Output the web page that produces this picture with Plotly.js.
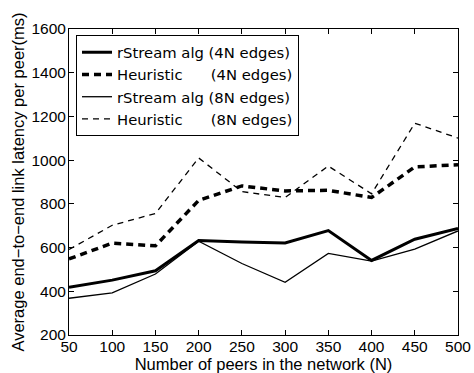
<!DOCTYPE html>
<html><head><meta charset="utf-8">
<script src="https://cdn.plot.ly/plotly-3.0.1.min.js"></script>
<style>html,body{margin:0;padding:0;background:#fff}</style>
</head><body><div id="chart" style="width:474px;height:373px"></div>
<script>
const peers = [50, 100, 150, 200, 250, 300, 350, 400, 450, 500];
const rstream4N = [418, 451, 494, 632, 626, 621, 678, 541, 638, 687];
const heuristic4N = [548, 620, 608, 816, 882, 859, 862, 829, 969, 979];
const rstream8N = [368, 393, 479, 629, 527, 441, 573, 538, 593, 676];
const heuristic8N = [591, 702, 756, 1010, 856, 829, 973, 846, 1169, 1101];
const names = ['rStream alg (4N edges)', 'Heuristic\u00a0\u00a0\u00a0\u00a0\u00a0\u00a0(4N edges)',
               'rStream alg (8N edges)', 'Heuristic\u00a0\u00a0\u00a0\u00a0\u00a0\u00a0(8N edges)'];
const yTicks = [200, 400, 600, 800, 1000, 1200, 1400, 1600];

const fam = 'Liberation Sans, Arial, sans-serif';
const tickFont = {family: fam, size: 15.5, color: '#000'};
const titleFont = {family: fam, size: 16.5, color: '#000'};
const legFont = {family: 'DejaVu Sans, Liberation Sans, sans-serif', size: 14.8, color: '#000'};
const traces = [
  {x: peers, y: rstream4N, name: names[0], mode: 'lines', line: {color: '#000', width: 3}},
  {x: peers, y: heuristic4N, name: names[1], mode: 'lines', line: {color: '#000', width: 3.5, dash: '7px,5px'}},
  {x: peers, y: rstream8N, name: names[2], mode: 'lines', line: {color: '#000', width: 1.3}},
  {x: peers, y: heuristic8N, name: names[3], mode: 'lines', line: {color: '#000', width: 1.3, dash: '6px,5px'}}
];
const axisCommon = {showline: true, linecolor: '#000', linewidth: 1, mirror: 'allticks', ticks: 'inside',
  ticklen: 5, tickcolor: '#000', showgrid: false, zeroline: false, tickfont: tickFont};
const layout = {
  width: 474, height: 373, margin: {l: 69, r: 16, t: 29, b: 38},
  paper_bgcolor: '#fff', plot_bgcolor: '#fff', font: tickFont, showlegend: true,
  xaxis: Object.assign({}, axisCommon, {range: [50, 500], tickvals: peers, ticktext: peers.map(String),
    ticklabelstandoff: -3, title: {text: 'Number of peers in the network (N)', font: titleFont, standoff: 0}}),
  yaxis: Object.assign({}, axisCommon, {range: [200, 1600], tickvals: yTicks, ticktext: yTicks.map(String),
    ticklabelstandoff: -1, title: {text: 'Average end\u2212to\u2212end link latency per peer(ms)', font: titleFont, standoff: 2}}),
  legend: {x: 0.018, y: 0.98, xanchor: 'left', yanchor: 'top', bgcolor: '#fff', bordercolor: '#000',
    borderwidth: 1, font: legFont, tracegroupgap: 0, itemwidth: 30}
};
Plotly.newPlot('chart', traces, layout, {displayModeBar: false, staticPlot: true});
</script></body></html>
